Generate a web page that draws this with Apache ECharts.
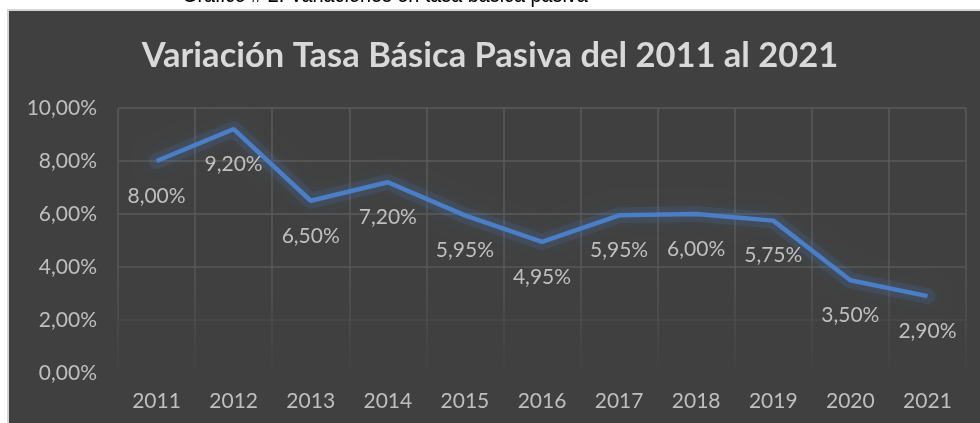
<!DOCTYPE html>
<html>
<head>
<meta charset="utf-8">
<script src="https://cdn.jsdelivr.net/npm/echarts@6/dist/echarts.min.js"></script>
<style>
html,body{margin:0;padding:0;background:#fff;}
#c{width:980px;height:423px;}
</style>
</head>
<body>
<div id="c"></div>
<script>
var categories = ['2011','2012','2013','2014','2015','2016','2017','2018','2019','2020','2021'];
var tasa = [8.00, 9.20, 6.50, 7.20, 5.95, 4.95, 5.95, 6.00, 5.75, 3.50, 2.90];
var yTicks = [0, 2, 4, 6, 8, 10];
var titleText = 'Variación Tasa Básica Pasiva del 2011 al 2021';
var captionText = 'Gráfico # 2: Variaciones en tasa básica pasiva';

function pct(v){ return v.toFixed(2).replace('.', ',') + '%'; }

var chart = echarts.init(document.getElementById('c'), null, {renderer:'canvas'});
var labelColor = '#bfbfbf';
var font = 'Lato';
chart.setOption({
  backgroundColor: '#ffffff',
  animation: false,
  graphic: [
    {type:'rect', z:-10, shape:{x:8, y:10, width:975, height:420},
     style:{fill:'#404040', stroke:'#d4d4d4', lineWidth:2}},
    {type:'text', z:10, x:182, y:-15, scaleX:0.9,
     style:{text:captionText, fill:'#000', font:'22px "Liberation Sans"'}}
  ],
  title: {
    text: titleText,
    left: 'center',
    top: 33,
    textStyle: {color:'#d9d9d9', fontFamily:font, fontWeight:'bold', fontSize:34.5}
  },
  grid: {left:118, right:14, top:108, bottom:50, containLabel:false},
  xAxis: {
    type:'category',
    data: categories,
    boundaryGap: true,
    axisLine: {show:false},
    axisTick: {show:false},
    axisLabel: {color:labelColor, fontFamily:font, fontSize:21, margin:18},
    splitLine: {show:true, lineStyle:{width:1.5,
      color: new echarts.graphic.LinearGradient(0,0,0,1,[
        {offset:0,color:'#5a5a5a'},{offset:0.6,color:'#575757'},{offset:1,color:'#414141'}])}}
  },
  yAxis: {
    type:'value',
    min: yTicks[0],
    max: yTicks[yTicks.length-1],
    interval: 2,
    axisLine: {show:false},
    axisTick: {show:false},
    axisLabel: {color:labelColor, fontFamily:font, fontSize:21, margin:21,
      formatter: function(v){ return pct(v); }},
    splitLine: {show:true, lineStyle:{width:1.5,
      color:['#424242','#4a4a4a','#575757','#5a5a5a','#5a5a5a','#5a5a5a']}}
  },
  series: [{
    type:'line',
    data: tasa,
    symbol: 'none',
    silent: true,
    z: 1,
    lineStyle: {color:'rgba(74,126,198,0.16)', width:16, cap:'round', join:'round',
      shadowColor:'rgba(74,126,198,0.45)', shadowBlur:16}
  },{
    type:'line',
    data: tasa,
    symbol: 'circle',
    symbolSize: 1,
    showSymbol: true,
    z: 2,
    itemStyle: {opacity:0},
    lineStyle: {color:'#4a7ec6', width:4.5},
    label: {show:true, position:'bottom', distance:24, color:labelColor, opacity:1,
      fontFamily:font, fontSize:21, formatter:function(p){return pct(p.value);}}
  }]
});
</script>
</body>
</html>
